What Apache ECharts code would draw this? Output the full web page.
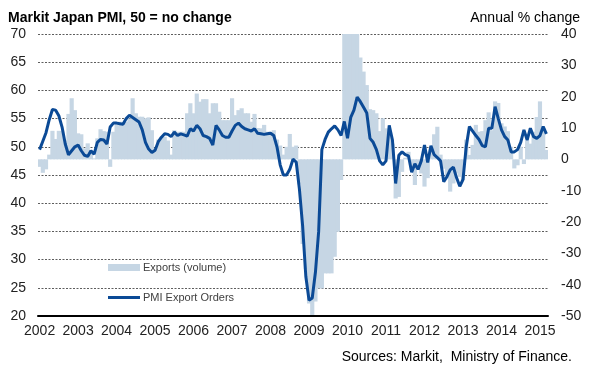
<!DOCTYPE html>
<html>
<head>
<meta charset="utf-8">
<script src="https://cdn.jsdelivr.net/npm/echarts@6/dist/echarts.min.js"></script>
<style>
  html, body { margin: 0; padding: 0; background: #fff; }
  #chart { width: 590px; height: 378px; }
</style>
</head>
<body>
<div id="chart"></div>
<script>
// monthly categories, Jan 2002 .. Mar 2015
const firstYear = 2002;
const lastYear = 2015;
const months = [];
for (let y = firstYear; y <= lastYear; y++) {
  for (let m = 1; m <= 12; m++) {
    if (y === lastYear && m > 3) break;
    months.push(y + "-" + (m < 10 ? "0" + m : m));
  }
}

// PMI Export Orders index (left axis)
const pmiExportOrders = [
  49.5, 51, 52.5, 54.8, 56.6, 56.5, 55.5, 53.5, 50.5, 48.6, 49.3, 50,
  50.3, 49.3, 48.5, 48.3, 49.3, 48.7, 50.8, 51.3, 51.2, 50.5, 53.5, 54.2,
  54.2, 54.1, 54, 55, 55.6, 55.2, 54.8, 54.4, 53, 50.8, 49.6, 49,
  49.4, 50.9, 51.7, 52.3, 52.2, 51.8, 52.6, 52, 52.3, 52.1, 51.9, 53.2,
  52.8, 53.8, 53.2, 52, 51.8, 51.5, 50.3, 53.8, 53, 52, 51.7, 51.7,
  52.8, 53.8, 54.2, 53.6, 53.2, 53, 52.8, 53.2, 52.4, 52.3, 52.2, 52.3,
  52.4, 52, 50, 46.8, 45, 45, 46, 47.8, 47.3, 42.5, 36, 27,
  22.8, 23.2, 27.8, 35, 49.5, 51.3, 52.6, 53.2, 53.7, 53, 52, 54.5,
  51.5, 55.2, 56.5, 58.8, 58, 57, 56, 51.5, 50.8, 49.5, 47.5, 46.8,
  47.5, 53.8, 51.2, 43.5, 48.5, 49.1, 48.6, 48.4, 45.5, 47, 46, 47.5,
  50.3, 47.2, 50.2, 48.6, 48.1, 47.5, 43.8, 44.7, 45.9, 46.4, 44.5, 43,
  44.2, 50, 53.6, 52.8, 52, 51.3, 50.2, 50, 53.3, 53.3, 57.1, 55,
  53, 51.8, 51.2, 49.1, 49.1, 49.5, 50.8, 53, 51.2, 53.3, 51.8, 51.5,
  52, 53.6, 52.3
];

// Exports (volume), annual % change (right axis)
const exportsVolume = [
  -2.4, -4.3, -3.2, 1.5, 9.1, 6.5, 9.1, 9, 6, 14.5, 19.5, 15.7,
  8.3, 8, 3.5, 5.1, 2.4, 0.3, 6.7, 9.6, 9, 8.8, -2.4, 8.8,
  12, 12, 11.5, 12, 13, 19.5, 14.7, 13.6, 13.6, 13.1, 13.4, 9.3,
  3, 6.3, 7.2, 7.2, 6, 1.5, 9.3, 8.8, 8.8, 8.8, 14.7, 17.9,
  14.7, 21, 18.4, 19.2, 19.2, 14.7, 17.9, 17.9, 15.2, 12.5, 12.5, 12.5,
  19.5, 14.1, 15.7, 16.3, 14.7, 14.7, 12, 14.5, 10, 9.9, 11, 8.8,
  8.8, 9.3, 6.3, 4.4, 1.5, 4, 8.1, 4, 4.4, -8, -27, -35,
  -46, -49.7, -45.4, -41.2, -41.2, -36.4, -36.4, -36.4, -31.1, -23.1, -6.6, 42,
  45, 48, 45, 42, 32.5, 28, 23.7, 16, 15.7, 14.7, 9, 13.1,
  9.9, 8, 5, -12.5, -12, -4, 0.5, 2.4, -3.5, -8.2, -3, -4.5,
  -8.7, -6, 3, 8, 10.4, 1.5, -3, -6, -10.3, -7.7, -4.5, -5.6,
  -6.6, 6.3, 1.4, 4.6, 11, 8.8, 9, 12.5, 15, 9.3, 18.5, 18,
  11.5, 10.5, 9, 4, -2.9, -1.9, 4, -1.5, 6, 5, 8.8, 13.5,
  18.5, 10, 3
];

const font = "'Liberation Sans', Arial, sans-serif";
const barColor = "#c6d6e4";
const lineColor = "#0b4a96";

const chart = echarts.init(document.getElementById("chart"));

const option = {
  animation: false,
  textStyle: { fontFamily: font },
  title: [
    {
      text: "{b|Markit Japan PMI}{n|, 50 = no change}",
      left: 8,
      top: 11,
      padding: 0,
      textStyle: {
        rich: {
          b: { fontFamily: font, fontWeight: "bold", fontSize: 14, color: "#000" },
          n: { fontFamily: font, fontSize: 14, color: "#000" },
        },
      },
    },
    {
      text: "Annual % change",
      right: 10,
      top: 11,
      padding: 0,
      textStyle: { fontFamily: font, fontSize: 14, fontWeight: "normal", color: "#000" },
    },
    {
      text: "Sources: Markit,  Ministry of Finance.",
      right: 18,
      top: 350,
      padding: 0,
      textStyle: { fontFamily: font, fontSize: 14, fontWeight: "normal", color: "#000" },
    },
  ],
  legend: [
    {
      data: [{ name: "Exports (volume)", icon: "rect" }],
      left: 108,
      top: 262,
      itemWidth: 32,
      itemHeight: 7,
      padding: 0,
      textStyle: { fontFamily: font, fontSize: 11, color: "#404040", padding: [0, 0, 0, -2] },
    },
    {
      data: [{ name: "PMI Export Orders", icon: "rect" }],
      left: 108,
      top: 292,
      itemWidth: 32,
      itemHeight: 3,
      padding: 0,
      textStyle: { fontFamily: font, fontSize: 11, color: "#404040", padding: [0, 0, 0, -2] },
    },
  ],
  grid: { left: 38, right: 42, top: 34, bottom: 62 },
  xAxis: {
    type: "category",
    data: months,
    boundaryGap: true,
    axisLine: { onZero: false, lineStyle: { color: "#000", width: 2 } },
    axisTick: {
      interval: (i) => i % 12 === 0,
      length: 4,
      lineStyle: { color: "#000", width: 1.5 },
    },
    axisLabel: {
      interval: (i) => i % 12 === 0,
      formatter: (v) => v.slice(0, 4),
      fontSize: 14,
      color: "#222",
      margin: 8,
    },
    splitLine: { show: false },
  },
  yAxis: [
    {
      type: "value",
      min: 20,
      max: 70,
      interval: 5,
      axisLine: { show: false },
      axisTick: { show: false },
      axisLabel: { fontSize: 14, color: "#222", margin: 12 },
      splitLine: { lineStyle: { color: "#333", type: [2, 1.5], width: 0.8 } },
    },
    {
      type: "value",
      min: -50,
      max: 40,
      interval: 10,
      axisLine: { show: false },
      axisTick: { show: false },
      axisLabel: { fontSize: 14, color: "#222", margin: 13 },
      splitLine: { show: false },
    },
  ],
  series: [
    {
      name: "Exports (volume)",
      type: "bar",
      yAxisIndex: 1,
      data: exportsVolume,
      barWidth: "130%",
      itemStyle: { color: barColor },
      clip: true,
    },
    {
      name: "PMI Export Orders",
      type: "line",
      yAxisIndex: 0,
      data: pmiExportOrders,
      symbol: "none",
      lineStyle: { color: lineColor, width: 3 },
      itemStyle: { color: lineColor },
    },
  ],
};

chart.setOption(option);
</script>
</body>
</html>
